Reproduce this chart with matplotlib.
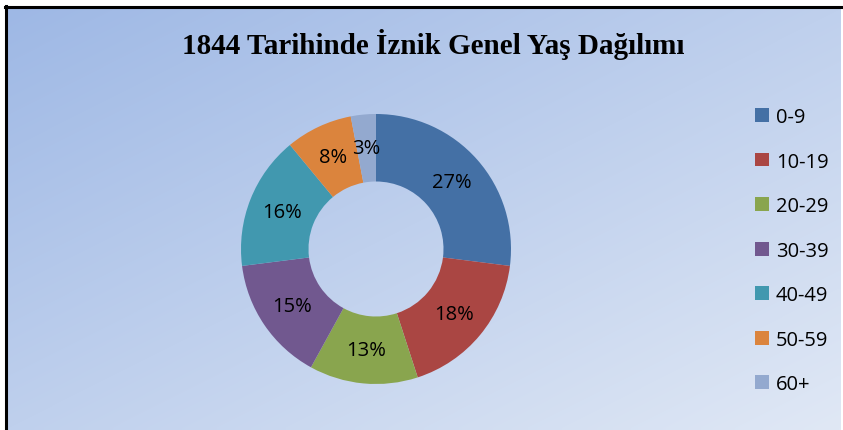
import numpy as np
import matplotlib
matplotlib.use("Agg")
import matplotlib.pyplot as plt
from matplotlib.lines import Line2D

title = "1844 Tarihinde İznik Genel Yaş Dağılımı"
categories = ["0-9", "10-19", "20-29", "30-39", "40-49", "50-59", "60+"]
values = [27, 18, 13, 15, 16, 8, 3]
colors = ["#4470A5", "#AA4643", "#89A54E", "#71588F", "#4198AF", "#DB843D", "#93A9CF"]

W, H = 843, 431
fig = plt.figure(figsize=(W / 100, H / 100), dpi=100, facecolor="white")

# gradient background
bx0, by_top = 7, 9
bg = fig.add_axes([bx0 / W, 0, (841 - bx0) / W, (H - by_top) / H])
bg.set_axis_off()
nx, ny = 200, 100
xx, yy = np.meshgrid(np.linspace(0, 1, nx), np.linspace(0, 1, ny))
t = (xx + yy) / 2
c0 = np.array([158, 184, 229]) / 255
c1 = np.array([224, 232, 245]) / 255
img = c0[None, None, :] * (1 - t[..., None]) + c1[None, None, :] * t[..., None]
bg.imshow(img, extent=[0, 1, 1, 0], aspect="auto", interpolation="bilinear")
bg.set_xlim(0, 1)
bg.set_ylim(1, 0)

# border lines (top and left)
fig.add_artist(Line2D([5 / W, 841 / W], [1 - 8 / H, 1 - 8 / H], color="black", lw=2.2, transform=fig.transFigure))
fig.add_artist(Line2D([6 / W, 6 / W], [0, 1 - 7 / H], color="black", lw=2.2, transform=fig.transFigure))

# title
fig.text(433 / W, 1 - 45 / H, title, ha="center", va="center", fontsize=21,
         fontweight="bold", family="Liberation Serif", color="black")

# donut
cx, cy, r = 376, 250, 135
ax = fig.add_axes([(cx - r) / W, (H - cy - r) / H, 2 * r / W, 2 * r / H])
ax.set_axis_off()
wedges, _ = ax.pie(values, colors=colors, startangle=90, counterclock=False, radius=1,
                   wedgeprops=dict(width=0.5, edgecolor="none"))
for w, v in zip(wedges, values):
    mid = np.deg2rad((w.theta1 + w.theta2) / 2)
    ax.text(0.75 * np.cos(mid), 0.75 * np.sin(mid), f"{v}%", ha="center", va="center",
            fontsize=14.5, family="Open Sans", color="black")
ax.set_xlim(-1, 1)
ax.set_ylim(-1, 1)
ax.set_aspect("equal")

leg = fig.legend(wedges, categories, loc="upper left", bbox_to_anchor=(755 / W, 1 - 108 / H),
                 frameon=False, prop=dict(family="Open Sans", size=14.5),
                 handlelength=0.68, handleheight=0.68, handletextpad=0.35, labelspacing=1.22,
                 borderpad=0, borderaxespad=0)

fig.savefig("out.png", dpi=100, facecolor="white")
